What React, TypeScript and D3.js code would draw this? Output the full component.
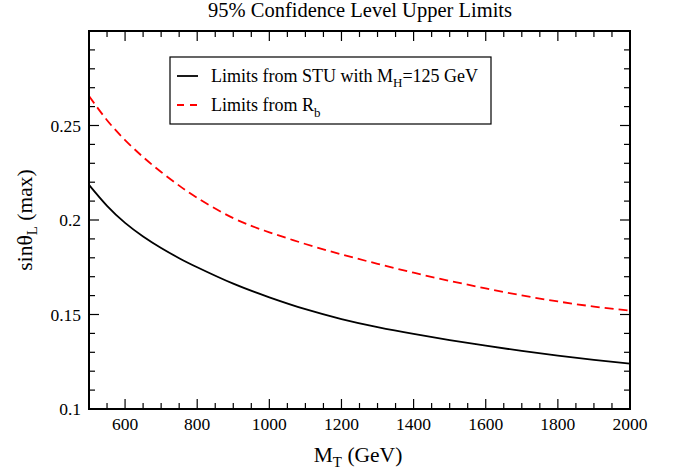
import React from "react";
import * as d3 from "d3";

const massGeV = [500, 550, 600, 650, 700, 750, 800, 900, 1000, 1100, 1200, 1300, 1400, 1500, 1600, 1700, 1800, 1900, 2000];
const stuLimit = [0.2186, 0.2075, 0.1985, 0.1913, 0.1852, 0.1798, 0.175, 0.1663, 0.1591, 0.1528, 0.1476, 0.1433, 0.1397, 0.1365, 0.1335, 0.1307, 0.1282, 0.126, 0.124];
const rbLimit = [0.2656, 0.2528, 0.2423, 0.2333, 0.2254, 0.2182, 0.2117, 0.201, 0.1935, 0.1873, 0.1818, 0.1768, 0.1721, 0.1678, 0.1638, 0.1601, 0.1569, 0.1542, 0.152];
const xMajorTicks = [600, 800, 1000, 1200, 1400, 1600, 1800, 2000];
const yMajorTicks = [0.1, 0.15, 0.2, 0.25];

const W = 675, H = 474;
const L = 89, R = 630, T = 31, B = 409;
const serif = "Liberation Serif, Times New Roman, serif";

export default function App() {
  const x = d3.scaleLinear().domain([500, 2000]).range([L, R]);
  const y = d3.scaleLinear().domain([0.1, 0.3]).range([B, T]);
  const line = d3.line<number>().x((_, i) => x(massGeV[i])).y((d) => y(d)).curve(d3.curveNatural);

  const xMinor = d3.range(550, 2001, 50).filter((v) => !xMajorTicks.includes(v));
  const yMinor = d3.range(0, 21).map((i) => 0.1 + i * 0.01).filter((_, i) => i % 5 !== 0);
  const yMajorAll = [0.1, 0.15, 0.2, 0.25, 0.3];

  const major = 10, minor = 6;

  return (
    <svg width={W} height={H} style={{ position: "absolute", left: 0, top: 0, background: "#fff", fontFamily: serif }}>
      <rect x={0} y={0} width={W} height={H} fill="#fff" />
      <text x={360} y={17} textAnchor="middle" fontSize={20.5} style={{ fontFamily: serif }}>95% Confidence Level Upper Limits</text>

      <path d={line(stuLimit) || ""} fill="none" stroke="#000" strokeWidth={1.8} />
      <path d={line(rbLimit) || ""} fill="none" stroke="#ff0000" strokeWidth={1.8} strokeDasharray="9,5" />

      <g stroke="#000" strokeWidth={1.2}>
        {xMajorTicks.map((v) => (
          <g key={"xm" + v}>
            <line x1={x(v)} x2={x(v)} y1={B} y2={B - major} />
            <line x1={x(v)} x2={x(v)} y1={T} y2={T + major} />
          </g>
        ))}
        {xMinor.map((v) => (
          <g key={"xn" + v}>
            <line x1={x(v)} x2={x(v)} y1={B} y2={B - minor} />
            <line x1={x(v)} x2={x(v)} y1={T} y2={T + minor} />
          </g>
        ))}
        {yMajorAll.map((v) => (
          <g key={"ym" + v}>
            <line x1={L} x2={L + major} y1={y(v)} y2={y(v)} />
            <line x1={R} x2={R - major} y1={y(v)} y2={y(v)} />
          </g>
        ))}
        {yMinor.map((v) => (
          <g key={"yn" + v}>
            <line x1={L} x2={L + minor} y1={y(v)} y2={y(v)} />
            <line x1={R} x2={R - minor} y1={y(v)} y2={y(v)} />
          </g>
        ))}
      </g>

      <rect x={L} y={T} width={R - L} height={B - T} fill="none" stroke="#000" strokeWidth={2} />

      <g style={{ fontFamily: serif }}>
        {xMajorTicks.map((v) => (
          <text key={"xl" + v} x={x(v)} y={430} textAnchor="middle" fontSize={17.5}>{v}</text>
        ))}
        {yMajorTicks.map((v) => (
          <text key={"yl" + v} x={81} y={y(v) + 6} textAnchor="end" fontSize={17.5}>{String(v)}</text>
        ))}

        <text x={358} y={462} textAnchor="middle" fontSize={21.5}>
          M<tspan fontSize={15} dy={5}>T</tspan><tspan dy={-5}> (GeV)</tspan>
        </text>
        <text transform={`translate(32,${(T + B) / 2}) rotate(-90)`} textAnchor="middle" fontSize={21.5}>
          sinθ<tspan fontSize={15} dy={5}>L</tspan><tspan dy={-5}> (max)</tspan>
        </text>
      </g>

      <rect x={170} y={57} width={321} height={67} fill="#fff" stroke="#000" strokeWidth={1.2} />
      <line x1={177} x2={198} y1={76} y2={76} stroke="#000" strokeWidth={1.8} />
      <line x1={177} x2={198} y1={105} y2={105} stroke="#ff0000" strokeWidth={1.8} strokeDasharray="7,6" />
      <g style={{ fontFamily: serif }}>
        <text x={211} y={82} fontSize={18}>
          Limits from STU with M<tspan fontSize={13} dy={5}>H</tspan><tspan dy={-5}>=125 GeV</tspan>
        </text>
        <text x={211} y={111} fontSize={18}>
          Limits from R<tspan fontSize={13} dy={6}>b</tspan>
        </text>
      </g>
    </svg>
  );
}
